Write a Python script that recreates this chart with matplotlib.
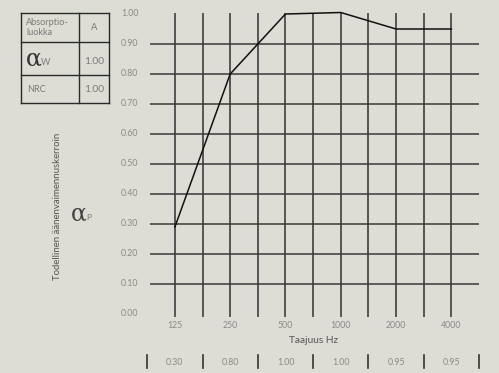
import numpy as np
import matplotlib.pyplot as plt
from matplotlib.transforms import blended_transform_factory

# taajuuskaistat ja arvot
freqs = ['125', '250', '500', '1000', '2000', '4000']
alpha_p = [0.29, 0.80, 1.00, 1.005, 0.95, 0.95]
band_vals = ['0.30', '0.80', '1.00', '1.00', '0.95', '0.95']
y_ticks = [0.0, 0.1, 0.2, 0.3, 0.4, 0.5, 0.6, 0.7, 0.8, 0.9, 1.0]
absorptio_luokka = 'A'
alpha_w = '1.00'
nrc = '1.00'

bg = '#dddcd5'
plt.rcParams['font.family'] = ['Lato', 'DejaVu Sans']

fig = plt.figure(figsize=(4.99, 3.73), dpi=100, facecolor=bg)
W, H = 499.0, 373.0
ax = fig.add_axes([150 / W, 1 - 314 / H, 329 / W, 300 / H])
ax.set_facecolor(bg)
ax.set_xlim(-0.9, 11.0)
ax.set_ylim(0, 1)
for s in ax.spines.values():
    s.set_visible(False)
ax.set_xticks([])
ax.set_yticks([])

xpos = np.arange(len(freqs)) * 2  # puolen oktaavin välein

# pystyviivat
for i in range(11):
    ax.plot([i, i], [-0.008, 1.0], color='#555555', lw=1.4, clip_on=False, zorder=1)
# vaakaviivat
for y in y_ticks[1:-1]:
    ax.plot([-0.9, 11.0], [y, y], color='#3a3a3a', lw=1.1, zorder=1)

ax.plot(xpos, alpha_p, color='#111111', lw=1.1, clip_on=False, zorder=3)

# y-akselin arvot
tr = blended_transform_factory(fig.transFigure, ax.transData)
for y in y_ticks:
    fig.text(121 / W, y, '%.2f' % y, transform=tr,
             ha='left', va='center', fontsize=6.3, color='#8a8a8a')

# x-akselin arvot
for x, f in zip(xpos, freqs):
    ax.text(x, -0.037, f, ha='center', va='center', fontsize=6.3,
            color='#8a8a8a', clip_on=False)
ax.text(5.0, -0.087, 'Taajuus Hz', ha='center', va='center', fontsize=7.3,
        color='#555555', clip_on=False)

# alarivi
for b in range(-1, 12, 2):
    ax.plot([b, b], [-0.137, -0.18], color='#333333', lw=1.2, clip_on=False)
for x, v in zip(xpos, band_vals):
    ax.text(x, -0.163, v, ha='center', va='center', fontsize=6.3,
            color='#8a8a8a', clip_on=False)

# y-otsikko
fig.text(58 / W, 1 - 206 / H, 'Todellinen äänenvaimennuskerroin', rotation=90,
         ha='center', va='center', fontsize=6.9, color='#555555')
fig.text(71 / W, 1 - 214 / H, 'α', ha='left', va='center', fontsize=17,
         color='#444444', family='DejaVu Serif')
fig.text(86 / W, 1 - 217.5 / H, 'P', ha='left', va='center', fontsize=6.0,
         color='#777777')

# taulukko
tx = [20.5, 79, 109]
ty = [13, 42, 75, 103]
lc = '#2a2a2a'
for y in ty:
    fig.add_artist(plt.Line2D([tx[0] / W, tx[2] / W], [1 - y / H, 1 - y / H],
                              color=lc, lw=1.0))
for x in tx:
    fig.add_artist(plt.Line2D([x / W, x / W], [1 - ty[0] / H, 1 - ty[-1] / H],
                              color=lc, lw=1.0))
fig.text(26 / W, 1 - 27.5 / H, 'Absorptio-\nluokka', ha='left', va='center',
         fontsize=6.6, color='#7a7a7a', linespacing=1.05)
fig.text(94 / W, 1 - 28 / H, absorptio_luokka, ha='center', va='center',
         fontsize=6.8, color='#7a7a7a')
fig.text(26 / W, 1 - 59 / H, 'α', ha='left', va='center', fontsize=17,
         color='#333333', family='DejaVu Serif')
fig.text(41 / W, 1 - 62.5 / H, 'W', ha='left', va='center', fontsize=6.6,
         color='#7a7a7a')
fig.text(94 / W, 1 - 61 / H, alpha_w, ha='center', va='center',
         fontsize=7.4, color='#7a7a7a')
fig.text(27 / W, 1 - 89 / H, 'NRC', ha='left', va='center',
         fontsize=6.6, color='#7a7a7a')
fig.text(94 / W, 1 - 89 / H, nrc, ha='center', va='center',
         fontsize=7.4, color='#7a7a7a')

fig.savefig('out.png', dpi=100, facecolor=bg)
